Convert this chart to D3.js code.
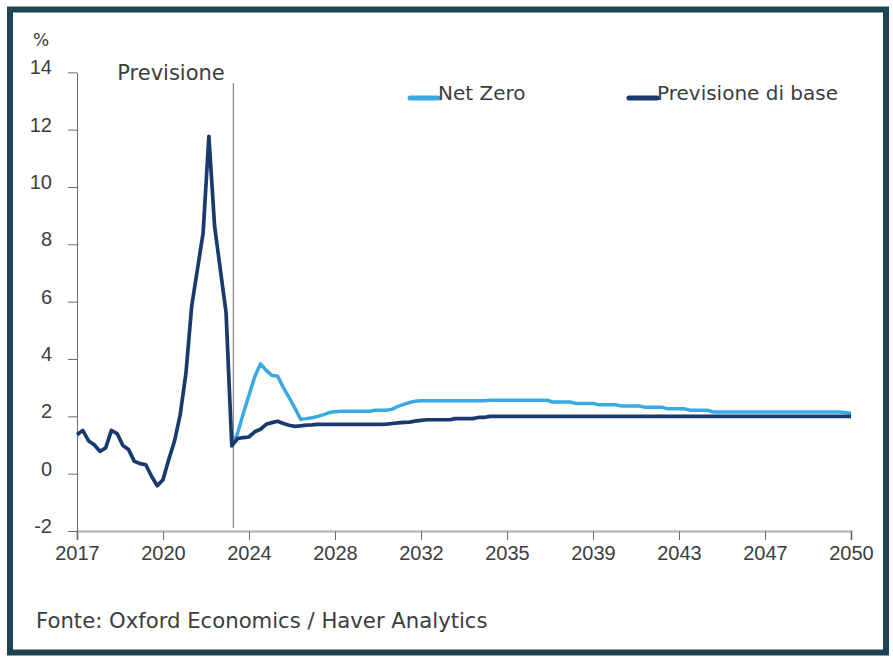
<!DOCTYPE html>
<html>
<head>
<meta charset="utf-8">
<script src="https://d3js.org/d3.v7.min.js"></script>
<style>
body { margin: 0; background: #fff; }
svg text { font-family: "DejaVu Sans", Verdana, sans-serif; fill: #3d3d3d; }
svg .tick text { font-family: "Liberation Sans", Arial, sans-serif; }
</style>
</head>
<body>
<svg id="svg1" width="893" height="659"></svg>
<script>
// quarterly categories 2017Q1 .. 2050Q4
var years = d3.range(2017, 2051);
var quarters = [];
years.forEach(function(yr){
    [1, 2, 3, 4].forEach(function(q){ quarters.push(yr + 'Q' + q); });
});

// actual data, shared by both series (2017Q1 .. 2023Q4)
var pastValues = [
    1.36, 1.51, 1.15, 1.01,
    0.78, 0.90, 1.51, 1.40,
    0.98, 0.84, 0.43, 0.35,
    0.31, -0.09, -0.42, -0.21,
    0.49, 1.13, 2.06, 3.50,
    5.84, 7.12, 8.40, 11.77,
    8.63, 7.12, 5.61, 0.97
];

// previsione di base, 2024Q1 .. 2050Q4
var baseForecast = [
    1.22, 1.26, 1.28, 1.46,
    1.55, 1.72, 1.78, 1.83,
    1.75, 1.69, 1.65, 1.67,
    1.69, 1.70, 1.72, 1.72,
    1.72, 1.72, 1.72, 1.72,
    1.72, 1.72, 1.72, 1.72,
    1.72, 1.72, 1.73, 1.75,
    1.77, 1.79, 1.80, 1.83,
    1.86, 1.88, 1.88, 1.88,
    1.88, 1.88, 1.92, 1.92,
    1.92, 1.92, 1.96, 1.96,
    2.00, 2.00, 2.00, 2.00,
    2.00, 2.00, 2.00, 2.00,
    2.00, 2.00, 2.00, 2.00,
    2.00, 2.00, 2.00, 2.00,
    2.00, 2.00, 2.00, 2.00,
    2.00, 2.00, 2.00, 2.00,
    2.00, 2.00, 2.00, 2.00,
    2.00, 2.00, 2.00, 2.00,
    2.00, 2.00, 2.00, 2.00,
    2.00, 2.00, 2.00, 2.00,
    2.00, 2.00, 2.00, 2.00,
    2.00, 2.00, 2.00, 2.00,
    2.00, 2.00, 2.00, 2.00,
    2.00, 2.00, 2.00, 2.00,
    2.00, 2.00, 2.00, 2.00,
    2.00, 2.00, 2.00, 2.00
];

// net zero, 2024Q1 .. 2050Q4
var netZeroForecast = [
    1.40, 2.10, 2.74, 3.38,
    3.83, 3.60, 3.43, 3.40,
    3.00, 2.65, 2.29, 1.90,
    1.92, 1.95, 2.00, 2.06,
    2.13, 2.16, 2.18, 2.18,
    2.18, 2.18, 2.18, 2.18,
    2.21, 2.21, 2.21, 2.25,
    2.35, 2.42, 2.48, 2.53,
    2.54, 2.54, 2.54, 2.54,
    2.54, 2.54, 2.54, 2.54,
    2.54, 2.54, 2.54, 2.54,
    2.56, 2.56, 2.56, 2.56,
    2.56, 2.56, 2.56, 2.56,
    2.56, 2.56, 2.56, 2.50,
    2.50, 2.50, 2.50, 2.45,
    2.45, 2.45, 2.45, 2.40,
    2.40, 2.40, 2.40, 2.36,
    2.36, 2.36, 2.36, 2.32,
    2.32, 2.32, 2.32, 2.26,
    2.26, 2.26, 2.26, 2.21,
    2.21, 2.21, 2.21, 2.15,
    2.15, 2.15, 2.15, 2.15,
    2.15, 2.15, 2.15, 2.15,
    2.15, 2.15, 2.15, 2.15,
    2.15, 2.15, 2.15, 2.15,
    2.15, 2.15, 2.15, 2.15,
    2.15, 2.15, 2.13, 2.10
];

var yTicks = [-2, 0, 2, 4, 6, 8, 10, 12, 14];
var xTickLabels = ['2017', '2020', '2024', '2028', '2032', '2035', '2039', '2043', '2047', '2050'];
var forecastStart = '2023Q4';

var seriesNames = ['Net Zero', 'Previsione di base'];
var seriesColors = ['#39a9e1', '#183a6d'];

var baseValues = pastValues.concat(baseForecast);
var netZeroValues = pastValues.concat(netZeroForecast);

var svg1 = d3.select('#svg1');

// outer frame
svg1.append('rect')
    .attr('x', 10)
    .attr('y', 9.5)
    .attr('width', 876)
    .attr('height', 643)
    .attr('fill', 'none')
    .attr('stroke', '#1c4453')
    .attr('stroke-width', 6);

var x = d3.scalePoint()
    .domain(quarters)
    .range([77, 851]);

var y = d3.scaleLinear()
    .domain([-2, 14])
    .range([531, 72.3]);

// x ticks: every 15th quarter, labelled with the year
var xTickValues = quarters.filter(function(d, i){ return i % 15 == 0; });

var xAxis = svg1.append('g')
    .attr('transform', 'translate(0,' + y(-2) + ')')
    .call(d3.axisBottom(x)
        .tickValues(xTickValues)
        .tickFormat(function(d, i){ return xTickLabels[i]; })
        .tickSize(9)
        .tickPadding(6));

xAxis.select('.domain')
    .attr('stroke', '#bdbdbd')
    .attr('stroke-width', 2.5);
xAxis.selectAll('.tick line')
    .attr('stroke', '#6b6b6b');
xAxis.selectAll('.tick text')
    .attr('font-size', 20)
    .attr('fill', '#3d3d3d');

var yAxis = svg1.append('g')
    .attr('transform', 'translate(' + x(quarters[0]) + ',0)')
    .call(d3.axisLeft(y)
        .tickValues(yTicks)
        .tickFormat(function(d){ return String(d); })
        .tickSize(9)
        .tickPadding(16)
        .tickSizeOuter(0));

yAxis.select('.domain')
    .attr('stroke', '#6b6b6b');
yAxis.selectAll('.tick line')
    .attr('stroke', '#6b6b6b');
yAxis.selectAll('.tick text')
    .attr('font-size', 20)
    .attr('dy', '0.08em')
    .attr('fill', '#3d3d3d');

// % unit label
svg1.append('text')
    .attr('x', 41)
    .attr('y', 46)
    .attr('text-anchor', 'middle')
    .attr('font-size', 17)
    .text('%');

// forecast divider
svg1.append('line')
    .attr('x1', x(forecastStart) + 1.5)
    .attr('x2', x(forecastStart) + 1.5)
    .attr('y1', 83)
    .attr('y2', 528)
    .attr('stroke', '#6b6b6b')
    .attr('stroke-width', 1);

svg1.append('text')
    .attr('x', x(forecastStart) - 7)
    .attr('y', 80)
    .attr('text-anchor', 'end')
    .attr('font-size', 21)
    .text('Previsione');

var lineFunction = d3.line()
    .x(function(d){ return x(d.q); })
    .y(function(d){ return y(d.v); });

var startIdx = quarters.indexOf(forecastStart);
var netZeroData = netZeroValues.map(function(v, i){ return {q: quarters[i], v: v}; }).slice(startIdx);
var baseData = baseValues.map(function(v, i){ return {q: quarters[i], v: v}; });

svg1.append('path')
    .datum(netZeroData)
    .attr('d', lineFunction)
    .attr('fill', 'none')
    .attr('stroke', seriesColors[0])
    .attr('stroke-width', 3.5)
    .attr('stroke-linejoin', 'round');

svg1.append('path')
    .datum(baseData)
    .attr('d', lineFunction)
    .attr('fill', 'none')
    .attr('stroke', seriesColors[1])
    .attr('stroke-width', 3.7)
    .attr('stroke-linejoin', 'round');

// legend
var legendX = [410, 629];
var legend = svg1.selectAll('.legend')
    .data(seriesNames)
    .enter()
    .append('g')
    .attr('class', 'legend')
    .attr('transform', function(d, i){ return 'translate(' + legendX[i] + ',98)'; });

legend.append('line')
    .attr('x1', 0)
    .attr('x2', 28)
    .attr('stroke', function(d, i){ return seriesColors[i]; })
    .attr('stroke-width', 5)
    .attr('stroke-linecap', 'round');

legend.append('text')
    .attr('x', 28)
    .attr('y', 2)
    .attr('font-size', 20)
    .text(function(d){ return d; });

// source note
svg1.append('text')
    .attr('x', 36)
    .attr('y', 628)
    .attr('font-size', 21.2)
    .text('Fonte: Oxford Economics / Haver Analytics');
</script>
</body>
</html>
